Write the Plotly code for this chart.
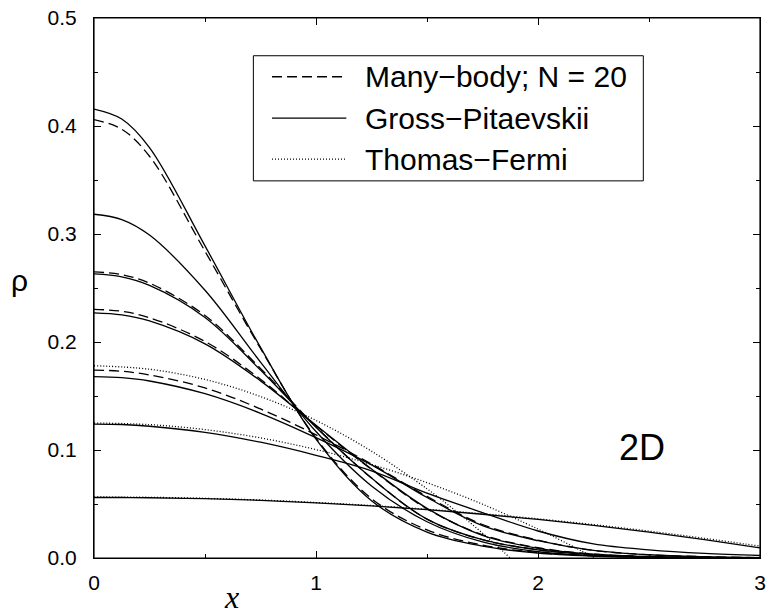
import plotly.graph_objects as go

# ---------------- data ----------------
X = [0, 0.125, 0.25, 0.5, 0.75, 1.0, 1.25, 1.5, 1.75, 2.0, 2.25, 2.5, 2.75, 3.0]

# Gross-Pitaevskii (solid)
gp_a = [0.4157, 0.4065, 0.380, 0.289, 0.195, 0.110, 0.053, 0.024, 0.011, 0.0045, 0.0018, 0.0007, 0.0003, 0.0001]
gp_b = [0.3183, 0.3134, 0.299, 0.2479, 0.1814, 0.1171, 0.0667, 0.0336, 0.0149, 0.0058, 0.0020, 0.0006, 0.0002, 0.0]
gp_c = [0.263, 0.2603, 0.2524, 0.2227, 0.174, 0.121, 0.074, 0.036, 0.017, 0.0075, 0.003, 0.001, 0.0003, 0.0001]
gp_d = [0.227, 0.2251, 0.2195, 0.1983, 0.164, 0.123, 0.0825, 0.046, 0.021, 0.009, 0.0035, 0.0012, 0.0004, 0.0001]
gp_e = [0.168, 0.167, 0.1639, 0.1521, 0.134, 0.1114, 0.0862, 0.056, 0.030, 0.016, 0.007, 0.003, 0.0012, 0.0004]
gp_f = [0.124, 0.1236, 0.1220, 0.1164, 0.1072, 0.0951, 0.0807, 0.060, 0.042, 0.025, 0.013, 0.0075, 0.0042, 0.0023]
gp_g = [0.056, 0.056, 0.0558, 0.0549, 0.0534, 0.0511, 0.0482, 0.0447, 0.0405, 0.0357, 0.0302, 0.0240, 0.0170, 0.0094]

# Many-body, N = 20 (dashed)
mb_a = [0.406, 0.397, 0.372, 0.284, 0.194, 0.111, 0.055, 0.026, 0.012, 0.005, 0.002, 0.0008, 0.0003, 0.0001]
mb_c = [0.265, 0.2623, 0.2545, 0.2245, 0.1755, 0.1215, 0.074, 0.036, 0.017, 0.0077, 0.003, 0.001, 0.0003, 0.0001]
mb_d = [0.2303, 0.2284, 0.2225, 0.2005, 0.1655, 0.1225, 0.082, 0.0455, 0.0215, 0.0095, 0.0037, 0.0013, 0.0004, 0.0001]
mb_e = [0.174, 0.1729, 0.1695, 0.1575, 0.138, 0.114, 0.087, 0.057, 0.031, 0.0165, 0.007, 0.003, 0.0012, 0.0004]

# Thomas-Fermi (dotted)
tf1_x = [0, 0.25, 0.5, 0.75, 1.0, 1.25, 1.5, 1.6, 1.7, 1.8, 1.875]
tf1_y = [0.178, 0.1748, 0.1653, 0.1495, 0.1274, 0.0989, 0.0641, 0.0484, 0.0317, 0.014, 0.0]
tf2_x = [0, 0.25, 0.5, 0.75, 1.0, 1.25, 1.5, 1.75, 2.0, 2.1, 2.2, 2.256]
tf2_y = [0.125, 0.1235, 0.1189, 0.1112, 0.1004, 0.0866, 0.0697, 0.0498, 0.0268, 0.0167, 0.0061, 0.0]
tf3_x = [0, 0.25, 0.5, 0.75, 1.0, 1.25, 1.5, 1.75, 2.0, 2.25, 2.5, 2.75, 3.0]
tf3_y = [0.0565, 0.0562, 0.0552, 0.0537, 0.0514, 0.0486, 0.0451, 0.0410, 0.0363, 0.0309, 0.0249, 0.0182, 0.0110]

x_ticks = [0, 1, 2, 3]
y_ticks = [0.0, 0.1, 0.2, 0.3, 0.4, 0.5]

legend_names = ["Many\u2212body; N = 20", "Gross\u2212Pitaevskii", "Thomas\u2212Fermi"]

# ---------------- figure ----------------
FONT = "Liberation Sans, Arial, Helvetica, sans-serif"
DASH = "10px,5px"
DOT = "1px,2px"
LW = 1.3
styles = [DASH, "solid", DOT]

fig = go.Figure()

def add(x, y, dash):
    fig.add_trace(go.Scatter(
        x=x, y=y, mode="lines", showlegend=False, hoverinfo="skip",
        line=dict(color="black", width=LW, dash=dash, shape="spline", smoothing=1)))

for ys in [mb_a, mb_c, mb_d, mb_e]:
    add(X, ys, DASH)
for ys in [gp_a, gp_b, gp_c, gp_d, gp_e, gp_f, gp_g]:
    add(X, ys, "solid")
for xs, ys in [(tf1_x, tf1_y), (tf2_x, tf2_y), (tf3_x, tf3_y)]:
    add(xs, ys, DOT)

# frame around the plotting area
fig.add_shape(type="rect", xref="paper", yref="paper", x0=0, x1=1, y0=0, y1=1,
              line=dict(color="black", width=1.2), layer="above")

# legend box (key drawn in paper coordinates)
fig.add_shape(type="rect", xref="paper", yref="paper", x0=0.2393, x1=0.8248, y0=0.6984, y1=0.9301,
              line=dict(color="black", width=1), fillcolor="white", layer="above")
key_y = [0.8912, 0.8146, 0.7386]
for name, dash, ky in zip(legend_names, styles, key_y):
    fig.add_shape(type="line", xref="paper", yref="paper", x0=0.2673, x1=0.3789, y0=ky, y1=ky,
                  line=dict(color="black", width=LW, dash=dash), layer="above")
    fig.add_annotation(x=0.4040, y=ky, xref="paper", yref="paper", text=name, showarrow=False,
                       xanchor="left", yanchor="middle",
                       font=dict(family=FONT, size=30, color="black"))

fig.add_annotation(x=2.47, y=0.102, xref="x", yref="y", text="2D", showarrow=False,
                   xanchor="center", yanchor="middle",
                   font=dict(family=FONT, size=36, color="black"))
fig.add_annotation(x=-0.1119, y=0.514, xref="paper", yref="paper", text="\u03c1", showarrow=False,
                   xanchor="center", yanchor="middle",
                   font=dict(family=FONT, size=30, color="black"))
fig.add_annotation(x=0.2058, y=-0.0714, xref="paper", yref="paper", text="<i>x</i>", showarrow=False,
                   xanchor="center", yanchor="middle",
                   font=dict(family="Liberation Serif, Times New Roman, serif", size=32, color="black"))

fig.update_xaxes(range=[0, 3], tickvals=x_ticks, ticks="inside", ticklen=7, tickwidth=1,
                 tickcolor="black", showline=True, linecolor="black", linewidth=1, mirror="ticks",
                 showgrid=False, zeroline=False, ticklabelstandoff=6, ticklabeloverflow="allow",
                 minor=dict(dtick=0.5, ticks="inside", ticklen=4, tickwidth=1, tickcolor="black", showgrid=False),
                 tickfont=dict(family=FONT, size=21, color="black"))
fig.update_yaxes(range=[0, 0.5], tickvals=y_ticks, tickformat=".1f", ticks="inside", ticklen=7, tickwidth=1,
                 tickcolor="black", showline=True, linecolor="black", linewidth=1, mirror="ticks",
                 showgrid=False, zeroline=False, ticklabelstandoff=12, ticklabeloverflow="allow",
                 minor=dict(dtick=0.05, ticks="inside", ticklen=4, tickwidth=1, tickcolor="black", showgrid=False),
                 tickfont=dict(family=FONT, size=21, color="black"))

fig.update_layout(
    width=770, height=616,
    margin=dict(l=94, r=4, t=18, b=58, pad=0),
    paper_bgcolor="white", plot_bgcolor="white",
    font=dict(family=FONT, color="black"),
    showlegend=False,
)

fig.write_html("out.html", config={"displayModeBar": False},
               post_script="document.body.style.margin='0';document.body.style.overflow='hidden';")
